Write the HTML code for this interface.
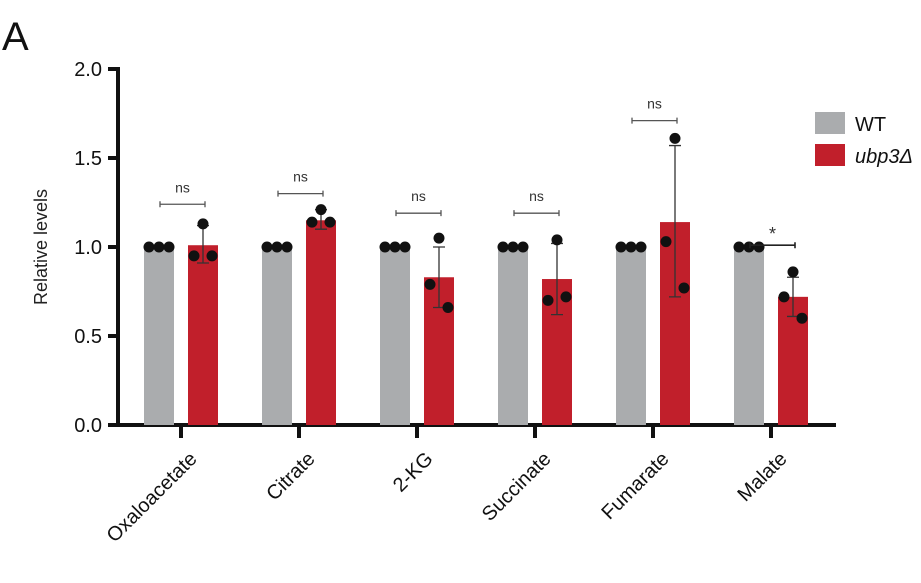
<!DOCTYPE html>
<html><head><meta charset="utf-8"><style>
html,body{margin:0;padding:0;background:#fff;}
svg{display:block;font-family:"Liberation Sans","DejaVu Sans",sans-serif;}
</style></head><body>
<svg id="chart" width="921" height="583"></svg>
<script>
const categories=["Oxaloacetate","Citrate","2-KG","Succinate","Fumarate","Malate"];
const wtValues=[1,1,1,1,1,1];
const mutValues=[1.01,1.15,0.83,0.82,1.14,0.72];
const mutErrLow=[0.91,1.10,0.66,0.62,0.72,0.61];
const mutErrHigh=[1.12,1.21,1.00,1.02,1.57,0.83];
const mutDots=[[1.13,0.95,0.95],[1.21,1.14,1.14],[1.05,0.79,0.66],[1.04,0.70,0.72],[1.61,1.03,0.77],[0.86,0.72,0.60]];
const sigLabels=["ns","ns","ns","ns","ns","*"];
const sigLevels=[1.24,1.30,1.19,1.19,1.71,1.01];
const yTicks=[0,0.5,1.0,1.5,2.0];

const NS="http://www.w3.org/2000/svg";
const svg=document.getElementById('chart');
function mk(tag,attrs,parent){const e=document.createElementNS(NS,tag);for(const k in attrs)e.setAttribute(k,attrs[k]);(parent||svg).appendChild(e);return e;}
const y0=425,yScale=178,x0=118,gap=118,firstWT=159,off=44,bw=30;
const Y=v=>y0-v*yScale;
const XW=i=>firstWT+i*gap;
const XM=i=>firstWT+off+i*gap;

const title=mk('text',{x:2,y:50,'font-size':40,fill:'#111'});title.textContent='A';



const ya=mk('line',{x1:x0,y1:y0+2,x2:x0,y2:Y(2)-2,stroke:'#111','stroke-width':4});


const xa=mk('line',{x1:x0-2,y1:y0,x2:836,y2:y0,stroke:'#111','stroke-width':4});


yTicks.forEach(t=>{
  const tl=mk('line',{x1:x0-10,y1:Y(t),x2:x0,y2:Y(t),stroke:'#111','stroke-width':4});
  
  
  const tx=mk('text',{x:x0-16,y:Y(t)+7,'font-size':20,'text-anchor':'end',fill:'#111'});
  tx.textContent=t.toFixed(1);
  
  
});
const yt=mk('text',{x:47,y:247,'font-size':18,'text-anchor':'middle',fill:'#222',transform:'rotate(-90 47 247)'});
yt.textContent='Relative levels';



categories.forEach((c,i)=>{
  const wb=mk('rect',{x:XW(i)-bw/2,y:Y(wtValues[i]),width:bw,height:wtValues[i]*yScale,fill:'#aaacae'});
  
  
  for(let k=-1;k<=1;k++){
    const d=mk('circle',{cx:XW(i)+k*10,cy:Y(wtValues[i]),r:5.5,fill:'#111'});
    
    
  }
  const mb=mk('rect',{x:XM(i)-bw/2,y:Y(mutValues[i]),width:bw,height:mutValues[i]*yScale,fill:'#c11f2b'});
  
  
  const eb=mk('path',{d:`M${XM(i)} ${Y(mutErrLow[i])}V${Y(mutErrHigh[i])}M${XM(i)-6} ${Y(mutErrLow[i])}h12M${XM(i)-6} ${Y(mutErrHigh[i])}h12`,stroke:'#333','stroke-width':1.3,fill:'none'});
  
  
  const dx=[0,-9,9];
  mutDots[i].forEach((v,k)=>{
    const d=mk('circle',{cx:XM(i)+dx[k],cy:Y(v),r:5.5,fill:'#111'});
    
    
  });
  const sy=Y(sigLevels[i]);
  const xa1=XW(i)+1,xa2=XM(i)+2;
  const sl=mk('path',{d:`M${xa1} ${sy}H${xa2}M${xa1} ${sy-3}v6M${xa2} ${sy-3}v6`,stroke:sigLabels[i]==='*'?'#222':'#555','stroke-width':sigLabels[i]==='*'?1.6:1.3,fill:'none'});
  
  
  const st=mk('text',{x:(xa1+xa2)/2,y:sy-(sigLabels[i]==='*'?5:12),'font-size':sigLabels[i]==='*'?18:14,'text-anchor':'middle',fill:'#333'});
  st.textContent=sigLabels[i];
  
  
  const tx=(XW(i)+XM(i))/2;
  const tk=mk('line',{x1:tx,y1:y0,x2:tx,y2:y0+13,stroke:'#111','stroke-width':4});
  
  
  const lx=tx+17,ly=y0+35;
  const lb=mk('text',{x:lx,y:ly,'font-size':20,'text-anchor':'end',fill:'#111',transform:`rotate(-45 ${lx} ${ly})`});
  lb.textContent=c;
  
  
});

const l1=mk('rect',{x:815,y:112,width:30,height:22,fill:'#aaacae'});


const t1=mk('text',{x:855,y:131,'font-size':20,fill:'#111'});t1.textContent='WT';


const l2=mk('rect',{x:815,y:144,width:30,height:22,fill:'#c11f2b'});


const t2=mk('text',{x:855,y:163,'font-size':20,'font-style':'italic',fill:'#111'});t2.textContent='ubp3Δ';


</script>
</body></html>
